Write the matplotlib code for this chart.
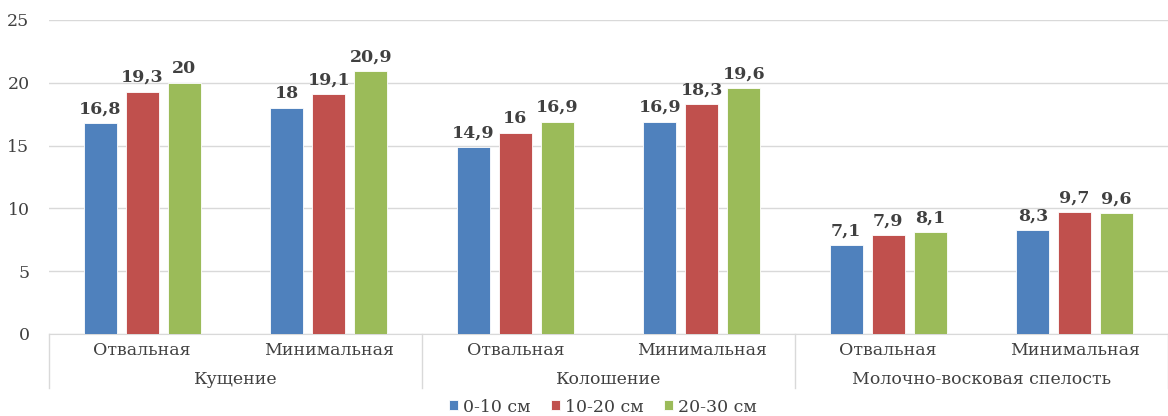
import numpy as np
import matplotlib.pyplot as plt
import matplotlib.transforms as mtransforms

plt.rcParams['font.family'] = ['DejaVu Serif']

stages = ['Кущение', 'Колошение', 'Молочно-восковая спелость']
tillage = ['Отвальная', 'Минимальная']
layers = ['0-10 см', '10-20 см', '20-30 см']
colors = ['#4F81BD', '#C0504D', '#9BBB59']

# values per layer, in order: stage x tillage
layer_0_10 = [16.8, 18, 14.9, 16.9, 7.1, 8.3]
layer_10_20 = [19.3, 19.1, 16, 18.3, 7.9, 9.7]
layer_20_30 = [20, 20.9, 16.9, 19.6, 8.1, 9.6]
series = [layer_0_10, layer_10_20, layer_20_30]

fs = 12.5
txt = '#404040'

fig = plt.figure(figsize=(11.68, 4.16), dpi=100)
ax = fig.add_axes([49 / 1168, 82 / 416, 1119 / 1168, 314 / 416])

x = np.arange(len(layer_0_10))
width = 0.177
step = 0.225
for i, (vals, lab, col) in enumerate(zip(series, layers, colors)):
    pos = x + (i - 1) * step
    bars = ax.bar(pos, vals, width, color=col, label=lab,
                  edgecolor='white', linewidth=0.6, zorder=3)
    for b, v in zip(bars, vals):
        ax.text(b.get_x() + b.get_width() / 2, v + 0.45,
                f'{v:g}'.replace('.', ','), ha='center', va='bottom',
                fontsize=fs, fontweight='bold', color=txt)

ax.set_xlim(-0.5, 5.5)
ax.set_ylim(0, 25)
ax.set_yticks(range(0, 26, 5))
ax.yaxis.grid(True, color='#d9d9d9', linewidth=1)
ax.set_axisbelow(True)
ax.tick_params(axis='y', length=0, pad=14, labelsize=fs, labelcolor=txt)
ax.set_xticks([])
for s in ['top', 'left', 'right']:
    ax.spines[s].set_visible(False)
ax.spines['bottom'].set_color('#d9d9d9')

# two-level category axis
trans = mtransforms.blended_transform_factory(ax.transData, ax.transAxes)
for sep in [-0.5, 1.5, 3.5, 5.5]:
    ax.plot([sep, sep], [0, -0.172], transform=trans, color='#d9d9d9',
            linewidth=1, clip_on=False)
for xi in x:
    ax.text(xi, -0.054, tillage[xi % 2], transform=trans, ha='center',
            va='center', fontsize=fs, color=txt)
for gi, st in enumerate(stages):
    ax.text(2 * gi + 0.5, -0.146, st, transform=trans, ha='center',
            va='center', fontsize=fs, color=txt)

fig.legend(loc='center', bbox_to_anchor=(603 / 1168, 9 / 416), ncol=3,
           frameon=False, fontsize=fs, handlelength=0.5, handleheight=0.5,
           handletextpad=0.3, columnspacing=1.2, labelcolor=txt)

fig.savefig('out.png', dpi=100)
